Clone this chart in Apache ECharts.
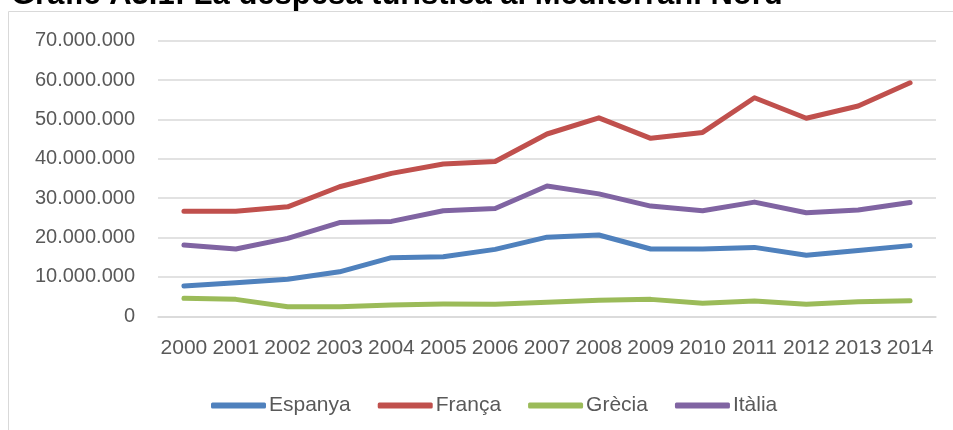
<!DOCTYPE html>
<html>
  <head>
    <meta charset="utf-8" />
    <title>Despesa turística</title>
    <style type="text/css">
      html,
      body {
        margin: 0;
        padding: 0;
        background: #fff;
      }
    </style>
    <script src="https://cdn.jsdelivr.net/npm/echarts@6/dist/echarts.min.js"></script>
  </head>
  <body>
    <div id="chart" style="width: 953px; height: 430px"></div>
    <script type="text/javascript">
      var years = ["2000", "2001", "2002", "2003", "2004", "2005", "2006", "2007",
        "2008", "2009", "2010", "2011", "2012", "2013", "2014"];
      var espanya = [7700000, 8500000, 9400000, 11300000, 14900000, 15100000, 17000000,
        20100000, 20650000, 17100000, 17100000, 17500000, 15500000, 16700000, 17950000];
      var franca = [26700000, 26700000, 27800000, 32900000, 36300000, 38700000, 39300000,
        46300000, 50400000, 45200000, 46700000, 55500000, 50300000, 53400000, 59300000];
      var grecia = [4600000, 4300000, 2450000, 2450000, 2900000, 3100000, 3050000,
        3550000, 4100000, 4300000, 3300000, 3900000, 3050000, 3700000, 3960000];
      var italia = [18100000, 17100000, 19800000, 23800000, 24100000, 26800000, 27400000,
        33100000, 31100000, 28000000, 26800000, 29000000, 26300000, 27000000, 28900000];
      var seriesNames = ["Espanya", "França", "Grècia", "Itàlia"];
      var colors = ["#4F81BD", "#C0504D", "#9BBB59", "#8064A2"];

      var chart = echarts.init(document.getElementById("chart"));

      function fmt(v) {
        return String(v).replace(/\B(?=(\d{3})+(?!\d))/g, ".");
      }

      function lineSeries(name, data, color) {
        return {
          name: name,
          type: "line",
          data: data,
          showSymbol: false,
          symbol: "none",
          color: color,
          lineStyle: { width: 5, color: color, cap: "round", join: "round" },
        };
      }

      var textColor = "#595959";
      var font = "Liberation Sans, Arial, sans-serif";

      var option = {
        animation: false,
        title: {
          text: "Gràfic A3.1: La despesa turística al Mediterrani Nord",
          left: 6,
          top: -25,
          textStyle: { fontFamily: font, fontSize: 31, fontWeight: "bold", color: "#000" },
        },
        graphic: [
          {
            type: "rect",
            shape: { x: 8.5, y: 11.5, width: 960, height: 440 },
            style: { fill: "none", stroke: "#d9d9d9", lineWidth: 1 },
            z: -1,
          },
        ],
        color: colors,
        legend: {
          data: seriesNames,
          left: 206,
          top: 390,
          icon: "roundRect",
          itemWidth: 55,
          itemHeight: 6,
          itemGap: 27,
          textStyle: { fontFamily: font, fontSize: 21, color: textColor, padding: [0, 0, 0, -2] },
        },
        grid: { left: 158, right: 17, top: 40.7, bottom: 113.7, containLabel: false },
        xAxis: {
          type: "category",
          data: years,
          boundaryGap: true,
          axisLine: { lineStyle: { color: "#d9d9d9", width: 1.5 } },
          axisTick: { show: false },
          axisLabel: { fontFamily: font, fontSize: 21, color: textColor, margin: 21, interval: 0 },
        },
        yAxis: {
          type: "value",
          min: 0,
          max: 70000000,
          interval: 10000000,
          axisLine: { show: false },
          axisTick: { show: false },
          splitLine: { lineStyle: { color: "#d9d9d9", width: 1.5 } },
          axisLabel: { fontFamily: font, fontSize: 20, color: textColor, margin: 23, formatter: fmt },
        },
        series: [
          lineSeries(seriesNames[0], espanya, colors[0]),
          lineSeries(seriesNames[1], franca, colors[1]),
          lineSeries(seriesNames[2], grecia, colors[2]),
          lineSeries(seriesNames[3], italia, colors[3]),
        ],
      };
      chart.setOption(option);
    </script>
  </body>
</html>
